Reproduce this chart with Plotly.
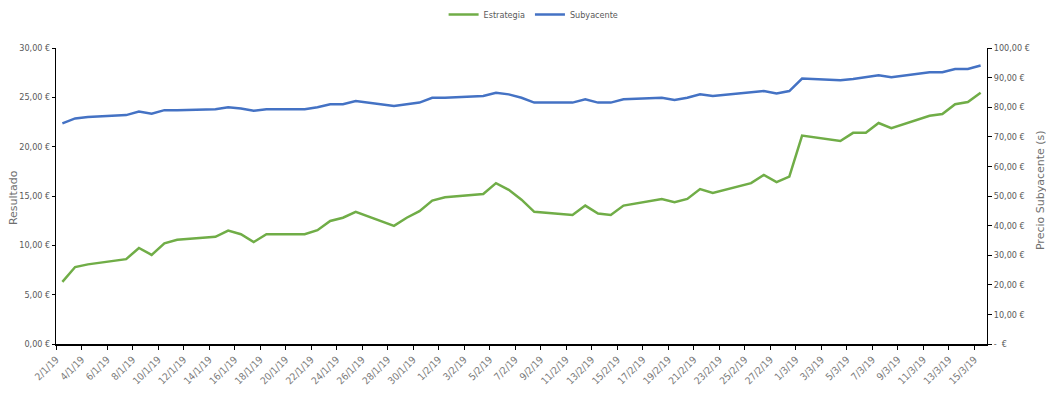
import pandas as pd
import plotly.graph_objects as go

dates = pd.bdate_range("2019-01-02", "2019-03-15")

estrategia = [6.3, 7.8, 8.07, 8.6, 9.73, 9.03, 10.2, 10.57,
              10.87, 11.5, 11.13, 10.33, 11.13,
              11.13, 11.53, 12.47, 12.8, 13.4,
              11.97, 12.8, 13.47, 14.53, 14.87,
              15.2, 16.3, 15.63, 14.63, 13.4,
              13.07, 14.03, 13.23, 13.07, 14.03,
              14.7, 14.37, 14.7, 15.7, 15.3,
              16.3, 17.13, 16.4, 16.97, 21.13,
              20.57, 21.4, 21.4, 22.4, 21.87,
              23.13, 23.3, 24.3, 24.53, 25.47]

subyacente = [74.56, 76.22, 76.67, 77.33, 78.55, 77.78, 79.0, 79.0,
              79.33, 80.0, 79.55, 78.78, 79.33,
              79.33, 80.0, 81.0, 81.0, 82.1,
              80.45, 81.0, 81.55, 83.2, 83.2,
              83.78, 84.9, 84.33, 83.2, 81.55,
              81.55, 82.67, 81.55, 81.55, 82.67,
              83.2, 82.45, 83.2, 84.4, 83.78,
              84.9, 85.45, 84.67, 85.45, 89.67,
              89.1, 89.5, 90.1, 90.78, 90.1,
              91.78, 91.78, 92.9, 92.9, 94.1]

x_tick_dates = pd.date_range("2019-01-02", "2019-03-15", freq="2D")
x_tick_text = [f"{d.day}/{d.month}/{d.strftime('%y')}" for d in x_tick_dates]

left_ticks = [0, 5, 10, 15, 20, 25, 30]
left_text = ["0,00 €", "5,00 €", "10,00 €", "15,00 €", "20,00 €", "25,00 €", "30,00 €"]
right_ticks = [0, 10, 20, 30, 40, 50, 60, 70, 80, 90, 100]
right_text = ["-  €", "10,00 €", "20,00 €", "30,00 €", "40,00 €", "50,00 €",
              "60,00 €", "70,00 €", "80,00 €", "90,00 €", "100,00 €"]

GREEN = "#70AD47"
BLUE = "#4472C4"
GRAY = "#595959"
FAM = "DejaVu Sans Condensed, Liberation Sans Narrow, Roboto, sans-serif"
YTICKFONT = dict(family=FAM, size=9, color=GRAY)
XTICKFONT = dict(family=FAM, size=10, color="#7a7a7a")
TITLEFONT = dict(family="DejaVu Sans, sans-serif", size=11, color="#6f6f6f")

fig = go.Figure()
fig.add_trace(go.Scatter(x=dates, y=estrategia, name="Estrategia", mode="lines",
                         line=dict(color=GREEN, width=2.5), yaxis="y"))
fig.add_trace(go.Scatter(x=dates, y=subyacente, name="Subyacente", mode="lines",
                         line=dict(color=BLUE, width=2.5), yaxis="y2"))

fig.update_layout(
    width=1046, height=398,
    margin=dict(l=56, r=59, t=48, b=50),
    paper_bgcolor="white", plot_bgcolor="white",
    showlegend=True,
    legend=dict(orientation="h", x=0.513, xanchor="center", y=1.0, yref="container",
                yanchor="top", font=dict(family=FAM, size=9, color=GRAY),
                itemwidth=30, bgcolor="rgba(0,0,0,0)"),
    xaxis=dict(
        type="date",
        range=[pd.Timestamp("2019-01-02") - pd.Timedelta(hours=12),
               pd.Timestamp("2019-03-15") + pd.Timedelta(hours=12)],
        tickvals=[d - pd.Timedelta(hours=12) for d in x_tick_dates],
        ticktext=x_tick_text, tickangle=-45,
        showline=True, linecolor="black", linewidth=1.8,
        ticks="outside", ticklen=4, tickcolor="black",
        showgrid=False, zeroline=False, tickfont=XTICKFONT,
    ),
    yaxis=dict(
        range=[0, 30], tickvals=left_ticks, ticktext=left_text,
        showline=True, linecolor="black", linewidth=1,
        ticks="outside", ticklen=3, tickcolor="black",
        showgrid=False, zeroline=False, tickfont=YTICKFONT,
    ),
    yaxis2=dict(
        range=[0, 100], tickvals=right_ticks, ticktext=right_text,
        overlaying="y", side="right",
        showline=True, linecolor="black", linewidth=1,
        ticks="outside", ticklen=4, tickcolor="black",
        showgrid=False, zeroline=False, tickfont=YTICKFONT,
    ),
    annotations=[
        dict(text="Resultado", x=0, xref="paper", y=0.493, yref="paper", xshift=-43,
             showarrow=False, textangle=-90, font=TITLEFONT,
             xanchor="center", yanchor="middle"),
        dict(text="Precio Subyacente (s)", x=1.0, xref="paper", y=0.52, yref="paper",
             showarrow=False, textangle=-90, font=TITLEFONT,
             xanchor="center", yanchor="middle", xshift=53),
    ],
)

fig.write_html("out.html")
